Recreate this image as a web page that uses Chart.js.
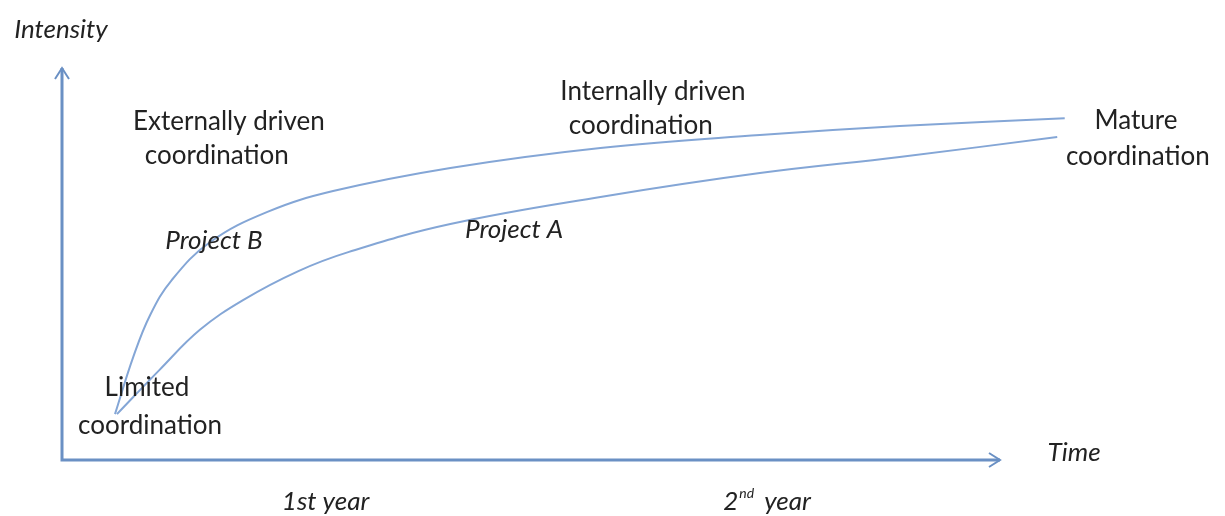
<!DOCTYPE html>
<html>
<head>
<meta charset="utf-8">
<script src="https://cdn.jsdelivr.net/npm/chart.js@4/dist/chart.umd.min.js"></script>
<style>
  body { margin: 0; background: #fff; }
</style>
</head>
<body>
<canvas id="coordChart" width="1225" height="516"></canvas>
<script>
// Project B curve (upper): time vs intensity
const projectBTime = [5.65, 7.6, 9.4, 11.7, 15.8, 21.9, 28.9, 41.4, 57.4, 74.4, 89.3, 106.9];
const projectBIntensity = [11.7, 26.3, 37.0, 45.9, 55.6, 63.3, 68.6, 74.5, 79.6, 82.9, 85.2, 87.2];

// Project A curve (lower)
const projectATime = [5.86, 10.4, 14.7, 19.3, 25.2, 30.6, 41.4, 57.4, 74.4, 89.3, 106.1];
const projectAIntensity = [11.7, 23.0, 33.2, 40.8, 48.2, 53.1, 60.2, 67.1, 73.2, 77.3, 82.4];

// Text labels placed in data space
const labels = [
  { text: "Intensity", x: -5.1, y: 109.7, italic: true, align: "left" },
  { text: "Externally driven", x: 17.8, y: 86.2 },
  { text: "coordination", x: 16.5, y: 77.6 },
  { text: "Project B", x: 16.2, y: 55.9, italic: true },
  { text: "Internally driven", x: 63.0, y: 94.1 },
  { text: "coordination", x: 61.7, y: 85.2 },
  { text: "Project A", x: 48.2, y: 58.9, italic: true },
  { text: "Mature", x: 114.5, y: 86.7 },
  { text: "coordination", x: 114.7, y: 77.3 },
  { text: "Limited", x: 9.06, y: 18.4 },
  { text: "coordination", x: 9.38, y: 8.9 },
  { text: "Time", x: 107.9, y: 2.0, italic: true },
  { text: "1st year", x: 28.1, y: -10.5, italic: true }
];

function toPoints(xs, ys) {
  return xs.map((x, i) => ({ x: x, y: ys[i] }));
}

const lineColor = "#84a6d6";
const axisColor = "#6a90c4";
const FONT = "26px Lato, 'Open Sans', sans-serif";

// draws the two arrow axes and the text
const diagramPlugin = {
  id: "diagram",
  beforeDatasetsDraw(chart) {
    const ctx = chart.ctx;
    const xs = chart.scales.x, ys = chart.scales.y;
    const x0 = xs.getPixelForValue(0), y0 = ys.getPixelForValue(0);
    const xEnd = xs.getPixelForValue(100), yEnd = ys.getPixelForValue(100);
    ctx.save();
    ctx.strokeStyle = axisColor;
    ctx.lineWidth = 3;
    ctx.beginPath();
    ctx.moveTo(x0, yEnd);
    ctx.lineTo(x0, y0);
    ctx.lineTo(xEnd, y0);
    ctx.stroke();
    ctx.lineWidth = 2;
    ctx.beginPath();
    ctx.moveTo(x0 - 7, yEnd + 11);
    ctx.lineTo(x0, yEnd);
    ctx.lineTo(x0 + 7, yEnd + 11);
    ctx.moveTo(xEnd - 11, y0 - 7);
    ctx.lineTo(xEnd, y0);
    ctx.lineTo(xEnd - 11, y0 + 7);
    ctx.stroke();
    ctx.restore();
  },
  afterDatasetsDraw(chart) {
    const ctx = chart.ctx;
    const xs = chart.scales.x, ys = chart.scales.y;
    ctx.save();
    ctx.fillStyle = "#222";
    ctx.textBaseline = "middle";
    labels.forEach(l => {
      ctx.font = (l.italic ? "italic " : "") + FONT;
      ctx.textAlign = l.align || "center";
      ctx.fillText(l.text, xs.getPixelForValue(l.x), ys.getPixelForValue(l.y));
    });
    // "2nd year" with superscript
    let px = xs.getPixelForValue(70.5), py = ys.getPixelForValue(-10.7);
    ctx.textAlign = "left";
    ctx.font = "italic " + FONT;
    ctx.fillText("2", px, py);
    px += ctx.measureText("2").width + 1;
    ctx.font = "italic 14px Lato, 'Open Sans', sans-serif";
    ctx.fillText("nd", px, py - 8);
    px += ctx.measureText("nd").width + 10;
    ctx.font = "italic " + FONT;
    ctx.fillText("year", px, py);
    ctx.restore();
  }
};

new Chart(document.getElementById("coordChart"), {
  type: "scatter",
  data: {
    datasets: [
      {
        label: "Project B",
        data: toPoints(projectBTime, projectBIntensity),
        showLine: true,
        borderColor: lineColor,
        borderWidth: 2,
        pointRadius: 0,
        tension: 0.4,
        clip: false
      },
      {
        label: "Project A",
        data: toPoints(projectATime, projectAIntensity),
        showLine: true,
        borderColor: lineColor,
        borderWidth: 2,
        pointRadius: 0,
        tension: 0.4,
        clip: false
      }
    ]
  },
  options: {
    responsive: false,
    animation: false,
    devicePixelRatio: 1,
    layout: { padding: { left: 62, top: 68, right: 225, bottom: 56 } },
    scales: {
      x: { type: "linear", min: 0, max: 100, display: false },
      y: { type: "linear", min: 0, max: 100, display: false }
    },
    plugins: {
      legend: { display: false },
      tooltip: { enabled: false }
    }
  },
  plugins: [diagramPlugin]
});
</script>
</body>
</html>
